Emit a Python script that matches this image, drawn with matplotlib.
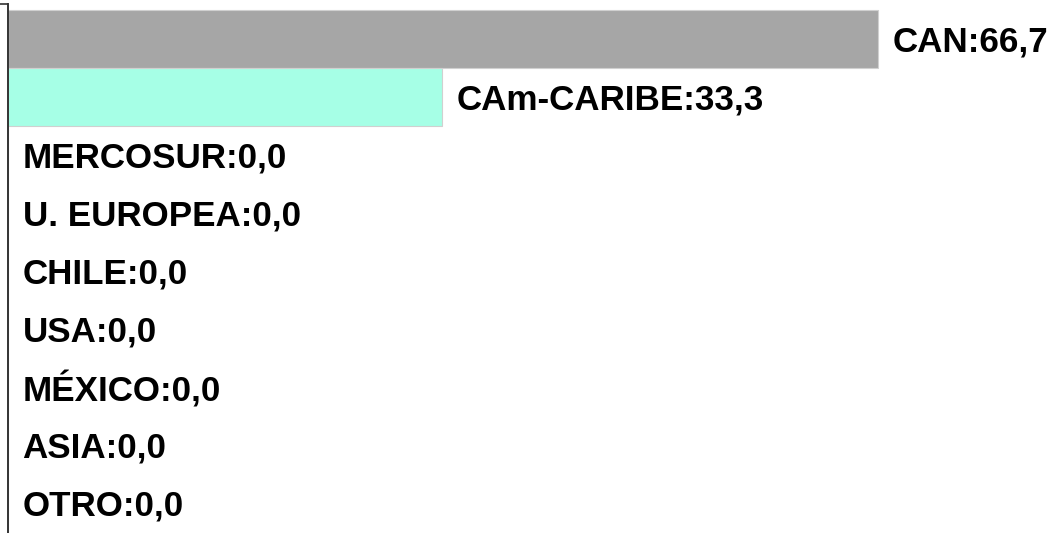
import numpy as np
import matplotlib.pyplot as plt

categories = ["CAN", "CAm-CARIBE", "MERCOSUR", "U. EUROPEA", "CHILE",
              "USA", "MÉXICO", "ASIA", "OTRO"]
values = [66.7, 33.3, 0.0, 0.0, 0.0, 0.0, 0.0, 0.0, 0.0]
colors = ["#a6a6a6", "#a6ffe6"] + ["#a6a6a6"] * 7

W, H = 1051, 533
fig = plt.figure(figsize=(W / 100, H / 100), dpi=100)
ax = fig.add_axes([8 / W, 0, 1 - 8 / W, (H - 4) / H])

y = np.arange(len(categories))
ax.barh(y, values, height=1.0, color=colors, edgecolor="#d0d0d0", linewidth=0.8)

for yi, cat, v in zip(y, categories, values):
    num = f"{v:.1f}".replace(".", ",")
    ax.annotate(f"{cat}:{num}", (v, yi), xytext=(10.5, -2), textcoords="offset points",
                va="center", ha="left", fontsize=25.2, fontweight="bold",
                family="Liberation Sans", color="black")

ax.set_xlim(0, 80)
ax.set_ylim(8.517, -0.603)
for s in ["top", "right", "bottom"]:
    ax.spines[s].set_visible(False)
ax.spines["left"].set_color("#333333")
ax.spines["left"].set_linewidth(1.4)
ax.set_xticks([])
ax.set_yticks([-0.603])
ax.set_yticklabels([])
ax.tick_params(axis="y", length=6, width=1.2, color="#333333")

fig.savefig("out.png", dpi=100)
